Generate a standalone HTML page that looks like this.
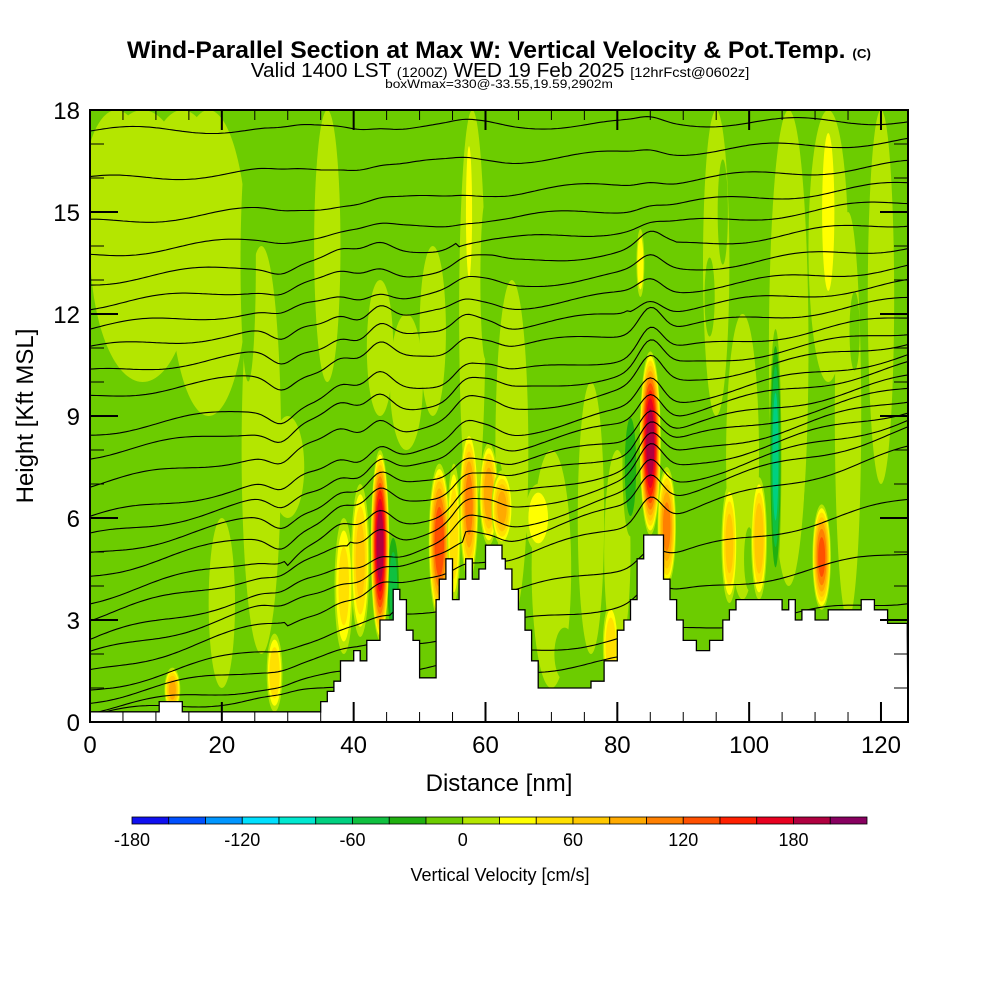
<!DOCTYPE html>
<html><head><meta charset="utf-8"><style>
body{margin:0;background:#fff;width:1000px;height:1000px;overflow:hidden;font-family:"Liberation Sans",Arial,sans-serif}
svg{display:block}
</style></head><body>
<svg id="chart" width="1000" height="1000" viewBox="0 0 1000 1000" xmlns="http://www.w3.org/2000/svg">
<defs><clipPath id="plotclip"><rect x="90" y="110" width="818" height="612"/></clipPath></defs>
<g>
<text x="499" y="58" text-anchor="middle" font-size="24" font-weight="bold" transform="translate(499 0) scale(1.03 1) translate(-499 0)">Wind-Parallel Section at Max W: Vertical Velocity &amp; Pot.Temp. <tspan font-size="13">(C)</tspan></text>
<text x="500" y="77" text-anchor="middle" font-size="20" transform="translate(500 0) scale(1.04 1) translate(-500 0)">Valid 1400 LST <tspan font-size="14">(1200Z)</tspan> WED 19 Feb 2025 <tspan font-size="14">[12hrFcst@0602z]</tspan></text>
<text x="499" y="88" text-anchor="middle" font-size="12" transform="translate(499 0) scale(1.14 1) translate(-499 0)">boxWmax=330@-33.55,19.59,2902m</text>
</g>
<rect x="90" y="110" width="818" height="612" fill="#6ccc00"/>
<g id="field" clip-path="url(#plotclip)"></g>
<g id="contours" clip-path="url(#plotclip)"></g>
<g id="terrain" clip-path="url(#plotclip)"></g>
<g id="axes"></g>
<g id="cbar"></g>
<text x="499" y="791" text-anchor="middle" font-size="24">Distance [nm]</text>
<text x="0" y="0" text-anchor="middle" font-size="24" transform="translate(33 416) rotate(-90)">Height [Kft MSL]</text>
<text x="500" y="881" text-anchor="middle" font-size="18">Vertical Velocity [cm/s]</text>
</svg>
<script>
// ---- data ----
const xTicks=[0,20,40,60,80,100,120];
const yTicks=[0,3,6,9,12,15,18];
const cbarLabels=[-180,-120,-60,0,60,120,180];
const binColors=["#1010f0","#0050ff","#0096ff","#00e0ff","#00e8d0","#00d080","#10c040","#20b010","#6ccc00","#b4e600","#ffff00","#ffe000","#ffc800","#ffaa00","#ff8000","#ff5000","#ff2000","#e80020","#b00040","#880060"];
const terrainX=[0,10,10.5,13.5,14,34,35,36,37,38,40,41,42,43,44,45,46,47,48,49,50,52,52.5,53,54,55,56,57,58,59,60,62,62.5,63,64,65,66,67,68,75,76,78,80,81,82,83,84,86,87,88,89,90,92,94,96,97,98,104,105,106,107,108,110,112,117,119,121,124];
const terrainH=[0.3,0.3,0.6,0.6,0.3,0.3,0.6,0.9,1.2,1.8,2.1,1.8,2.4,2.4,3.0,3.0,3.9,3.6,2.7,2.4,1.3,1.3,3.6,4.2,4.8,3.6,4.2,4.8,4.2,4.5,5.2,5.2,4.8,4.5,3.9,3.3,2.7,1.8,1.0,1.0,1.2,1.8,2.7,3.0,3.6,4.8,5.5,5.5,4.2,3.6,3.0,2.4,2.1,2.4,3.0,3.3,3.6,3.6,3.3,3.6,3.0,3.3,3.0,3.3,3.6,3.3,2.9,2.6];
// light-green (0..20) patches: x, bottom, top, width(nm), value
const patchX=[8,18,14,26,30,36,48,58,64,70,76,80,95,99,106,115,120,20,52,44,4,112];
const patchB=[10,9,12,2,6,10,8,6,3,1,2,2,9,3.6,4,3,7,1,9,9,13,10];
const patchT=[18,18,18,14,9,18,12,18,13,8,10,8,18,12,18,15,18,6,14,13,18,18];
const patchW=[8,6,6,3,2.5,2,2.5,2,2.5,3,2,2,2,2.5,3,2,2,2,2,2,5,3];
const patchV=[10,10,10,10,10,10,10,10,10,10,10,10,10,10,10,10,10,10,10,10,10,10];
// dark green (-40..-20) streaks
const downX=[24,33,40,46,50,55,62,72,82,86,89,92,94,100,104,109,116,76,96,60];
const downB=[9,4,2,2,1.3,3,5,1,5,9,8,10,11,3.6,3.6,3.3,10,11,13,10];
const downT=[18,7,6,6,5,8,8,3,10,18,14,18,14,6,12,8,13,18,17,16];
const downW=[1.5,1.2,1,1.2,1.5,0.8,1,2,1.5,1.2,1,1,1,1,1,1,1,1.5,1,1];
const downV=[-30,-30,-30,-60,-30,-100,-30,-30,-40,-30,-30,-30,-30,-30,-80,-30,-30,-30,-30,-30];
// updraft cells
const upX=[12.5,28,38.5,41,44,53,55.2,57.5,60.5,62.5,79,85,87.5,97,101.5,111,57.5,83.5,112,68];
const upB=[0.3,0.3,2,2.5,2.4,3,3.5,4.2,5.2,5.2,1,5.5,4,3.5,3.6,3.3,12.5,12.5,12,5];
const upT=[1.6,2.6,6,7,8,7.6,7.6,8.6,8.2,7.4,3.5,10.9,7.5,7,7.2,6.4,17.5,14.5,18,7];
const upW=[1.2,1.2,1.4,1.4,1.4,1.6,1.0,1.4,1.4,1.6,1.2,1.6,1.4,1.2,1.2,1.4,0.6,0.6,1.2,2];
const upV=[80,50,40,60,190,130,50,100,90,80,50,190,100,60,70,120,30,30,30,25];
// potential temperature contours (heights in kft at left & right edges)
const thetaLeft=[17.38,15.94,14.68,13.74,12.94,12.24,11.59,10.97,10.26,9.56,8.5,7.85,6.97,6.0,5.44,4.91,4.32,3.59,3.06,2.41,1.97,1.44,0.94,0.65,0.35,0.2];
const thetaRight=[17.7,17.1,16.4,15.8,15.3,14.7,14.0,13.4,12.9,12.4,11.9,11.5,11.2,10.8,10.5,10.1,9.8,9.5,9.2,8.9,8.6,8.0,6.5,5.0,3.6,2.7];
const bumpX=[44,57,60.5,85,38,29];
const bumpA=[0.5,0.5,0.3,0.8,0.3,-0.4];

// ---- scales ----
const X0=90,X1=908,Y0=722,Y1=110,XMAX=124.1,YMAX=18;
const sx=d=>X0+d/XMAX*(X1-X0);
const sy=h=>Y0-h/YMAX*(Y0-Y1);
const NS="http://www.w3.org/2000/svg";
function mk(tag,attrs,parent){const e=document.createElementNS(NS,tag);for(const k in attrs)e.setAttribute(k,attrs[k]);parent.appendChild(e);return e;}
const binOf=v=>Math.max(0,Math.min(19,Math.floor((v+180)/20)));
const field=document.getElementById('field');

function blob(x,b,t,w,v,name){
  const g=mk('g',{},field);
  
  
  const steps=[];
  if(v>=0){for(let th=0;th<=v;th+=20)steps.push(th);}else{for(let th=-20;th>=v;th-=20)steps.push(th);}
  steps.forEach((th,i)=>{
    const f=Math.sqrt(1-Math.abs(th)/(Math.abs(v)+20));
    const cx=sx(x),cy=sy((b+t)/2);
    const ry=(sy(b)-sy(t))/2*Math.max(f,0.25);
    const rx=(sx(w)-sx(0))*f;
    mk('ellipse',{cx:cx,cy:cy,rx:rx,ry:ry,fill:binColors[binOf(th)]},g);
  });
}
for(let i=0;i<patchX.length;i++)blob(patchX[i],patchB[i],patchT[i],patchW[i],patchV[i],'updraft-weak-patch');
for(let i=0;i<downX.length;i++)blob(downX[i],downB[i],downT[i],downW[i],downV[i],'downdraft-streak');
for(let i=0;i<upX.length;i++)blob(upX[i],upB[i],upT[i],upW[i],upV[i],'updraft-cell');

// contours
const cg=document.getElementById('contours');
for(let i=0;i<thetaLeft.length;i++){
  let pts=[];
  for(let d=0;d<=XMAX;d+=0.5){
    const f=d/XMAX;let h=thetaLeft[i]*(1-f)+thetaRight[i]*f;
    const amp=(h>5&&h<12)?1:(h>3&&h<14?0.5:0.15);
    for(let k=0;k<bumpX.length;k++)h+=amp*bumpA[k]*Math.exp(-Math.pow((d-bumpX[k])/2.5,2));
    h+=0.12*Math.sin(d*0.25+i);
    pts.push(sx(d).toFixed(1)+','+sy(h).toFixed(1));
  }
  const p=mk('polyline',{points:pts.join(' '),fill:'none',stroke:'#000','stroke-width':1.1},cg);
  
  
}
// terrain
const tg=document.getElementById('terrain');
let tp=[];
for(let i=0;i<terrainX.length;i++){
  if(i>0)tp.push(sx(terrainX[i]).toFixed(1)+','+sy(terrainH[i-1]).toFixed(1));
  tp.push(sx(terrainX[i]).toFixed(1)+','+sy(terrainH[i]).toFixed(1));
}
const tpoly=mk('polygon',{points:sx(0)+','+sy(0)+' '+tp.join(' ')+' '+sx(XMAX)+','+sy(0),fill:'#fff',stroke:'#000','stroke-width':1.3},tg);



// axes
const ag=document.getElementById('axes');
const frame=mk('rect',{x:X0,y:Y1,width:X1-X0,height:Y0-Y1,fill:'none',stroke:'#000','stroke-width':2},ag);


for(let d=0;d<=XMAX;d+=5){
  const major=d%20===0;const L=major?20:10;
  mk('line',{x1:sx(d),x2:sx(d),y1:Y0,y2:Y0-L,stroke:'#000','stroke-width':major?2:1},ag);
  mk('line',{x1:sx(d),x2:sx(d),y1:Y1,y2:Y1+L,stroke:'#000','stroke-width':major?2:1},ag);
}
for(let h=0;h<=18;h+=1){
  const major=h%3===0;const L=major?28:14;
  mk('line',{x1:X0,x2:X0+L,y1:sy(h),y2:sy(h),stroke:'#000','stroke-width':major?2:1},ag);
  mk('line',{x1:X1,x2:X1-L,y1:sy(h),y2:sy(h),stroke:'#000','stroke-width':major?2:1},ag);
}
xTicks.forEach(v=>{const t=mk('text',{x:sx(v),y:753,'text-anchor':'middle','font-size':24},ag);t.textContent=v;
  
  });
yTicks.forEach(v=>{const t=mk('text',{x:80,y:sy(v)+9,'text-anchor':'end','font-size':24},ag);t.textContent=v;
  
  });

// colorbar
const cb=document.getElementById('cbar');
const CB0=132,CBW=36.75;
binColors.forEach((c,i)=>{const r=mk('rect',{x:CB0+i*CBW,y:817,width:CBW,height:7,fill:c,stroke:'#000','stroke-width':0.8},cb);
  
  });
cbarLabels.forEach(v=>{const t=mk('text',{x:CB0+(v+180)/20*CBW,y:846,'text-anchor':'middle','font-size':18},cb);t.textContent=v;
  
  });
</script>
</body></html>
